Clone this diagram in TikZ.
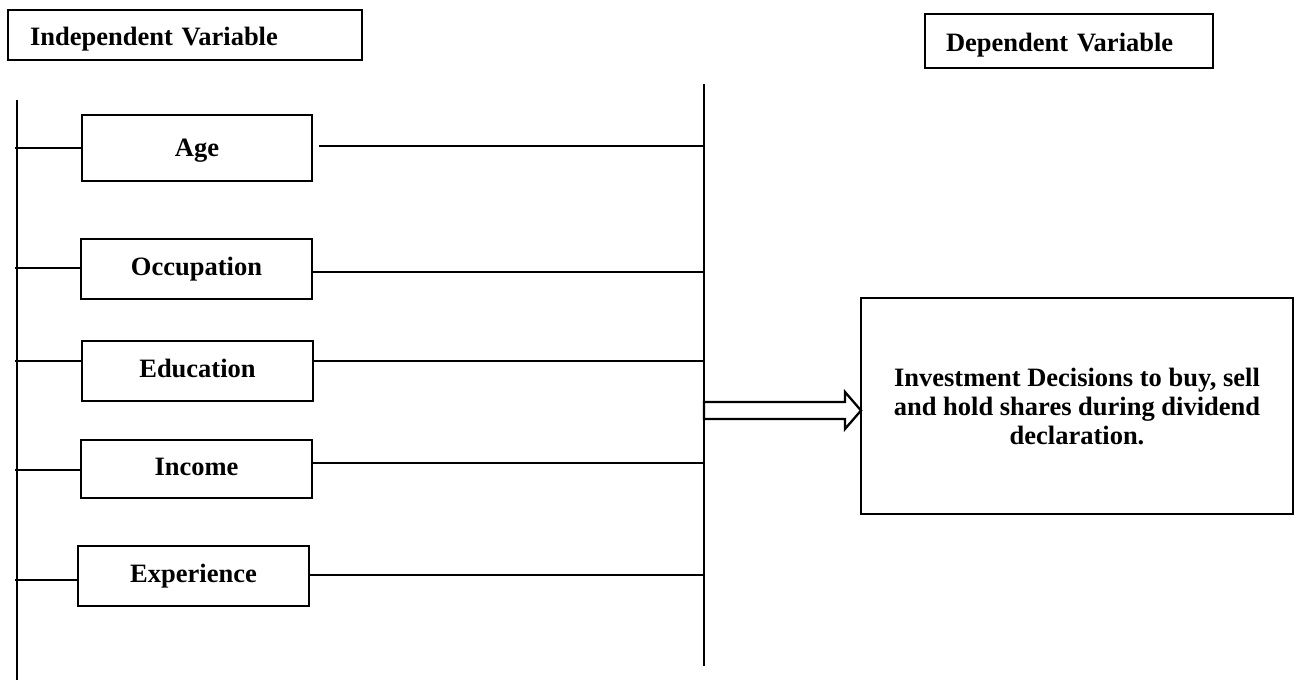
\documentclass[tikz,border=0pt]{standalone}
\usepackage{fontspec}
\setmainfont{Liberation Serif}
\usetikzlibrary{calc}
\begin{document}
\begin{tikzpicture}[x=1pt,y=-1pt,
  lbl/.style={font=\fontsize{26.5}{29}\selectfont\bfseries},
  varbox/.style={draw, line width=2.4pt, minimum width=231pt, minimum height=60pt, inner sep=0pt, lbl, text height=18pt, text depth=6pt},
  headbox/.style={draw, line width=2pt, inner sep=0pt, lbl, text height=22pt, text depth=2pt, align=left},
  conn/.style={line width=1.3pt},
  fatarrow/.style={draw, line width=2.3pt, fill=white, line join=miter}]
\useasboundingbox (0,0) rectangle (1299,680);

% headers
\node[headbox, minimum width=354pt, minimum height=50pt, text width=310pt] (indep) at (185,35) {Independent Variable};
\node[headbox, minimum width=288pt, minimum height=54pt, text width=246pt] (dep) at (1069,41) {Dependent Variable};

% variable boxes
\node[varbox, minimum width=230pt, minimum height=66pt, text height=20pt, text depth=4pt] (age) at (197,148) {Age};
\node[varbox] (occ) at (196.5,269) {Occupation};
\node[varbox] (edu) at (197.5,371) {Education};
\node[varbox, minimum height=58pt] (inc) at (196.5,469) {Income};
\node[varbox] (exp) at (193.5,576) {Experience};

% dependent box
\node[draw, line width=2pt, minimum width=432pt, minimum height=216pt, lbl, align=center, inner sep=0pt] (dec) at (1077,406)
  {Investment Decisions to buy, sell\\and hold shares during dividend\\declaration.};

% vertical lines
\coordinate (ltop) at (17,100);
\coordinate (lbot) at (17,680);
\coordinate (rtop) at (704,84);
\coordinate (rbot) at (704,666);
\draw[conn] (ltop) -- (lbot);
\draw[conn] (rtop) -- (rbot);

% left branches
\coordinate (l1) at (15,148);
\coordinate (l2) at (15,268);
\coordinate (l3) at (15,361);
\coordinate (l4) at (15,470);
\coordinate (l5) at (15,580);
\draw[conn] (l1) -- (l1 -| age.west);
\draw[conn] (l2) -- (l2 -| occ.west);
\draw[conn] (l3) -- (l3 -| edu.west);
\draw[conn] (l4) -- (l4 -| inc.west);
\draw[conn] (l5) -- (l5 -| exp.west);

% right branches
\coordinate (r1) at (704,146);
\coordinate (r2) at (704,272);
\coordinate (r3) at (704,361);
\coordinate (r4) at (704,463);
\coordinate (r5) at (704,575);
\draw[conn] ($(r1 -| age.east)+(6,0)$) -- (r1);
\draw[conn] (r2 -| occ.east) -- (r2);
\draw[conn] (r3 -| edu.east) -- (r3);
\draw[conn] (r4 -| inc.east) -- (r4);
\draw[conn] (r5 -| exp.east) -- (r5);

% block arrow
\coordinate (as) at (704,410.5);
\coordinate (tip) at ($(dec.west |- as)+(1,0)$);
\draw[fatarrow] ($(as)+(0,-8.5)$) -- ($(tip)+(-16,-8.5)$) -- ($(tip)+(-16,-18.5)$) -- (tip)
  -- ($(tip)+(-16,18.5)$) -- ($(tip)+(-16,8.5)$) -- ($(as)+(0,8.5)$) -- cycle;
\end{tikzpicture}
\end{document}
